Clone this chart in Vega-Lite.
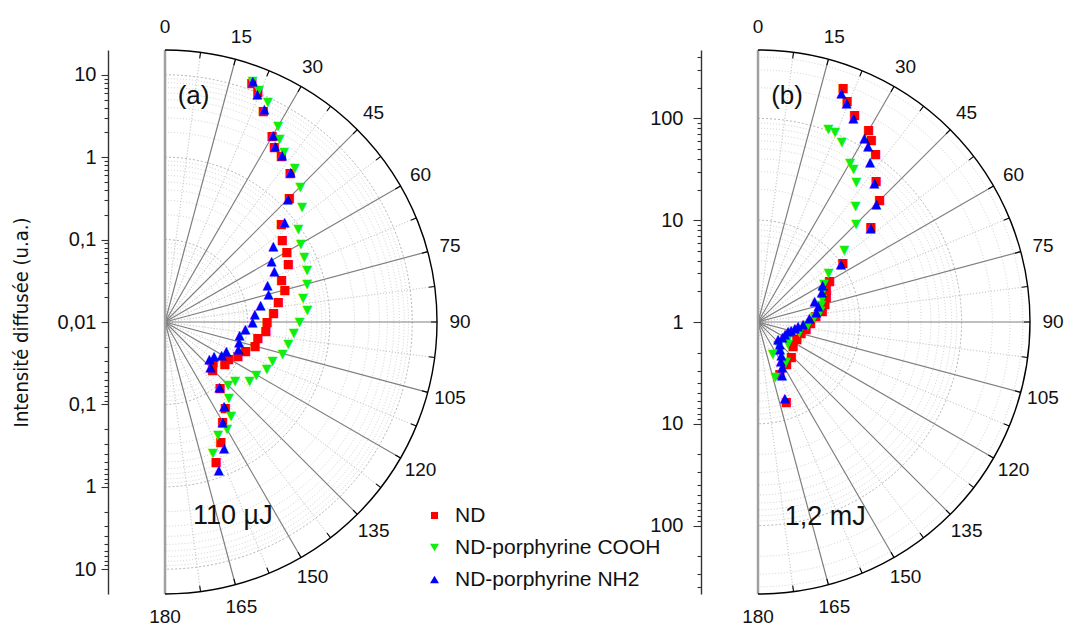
{
  "$schema": "https://vega.github.io/schema/vega-lite/v6.json",
  "padding": {"left": 11, "top": 18, "right": 0, "bottom": 0},
  "bounds": "flush",
  "spacing": 253,
  "config": {
    "view": {"stroke": null},
    "text": {"font": "Liberation Sans"},
    "axis": {"labelFont": "Liberation Sans", "titleFont": "Liberation Sans"}
  },
  "resolve": {"scale": {"color": "independent", "radius": "independent", "theta": "independent"}},
  "datasets": {
    "cAmin": [{"r":0.02},{"r":0.03},{"r":0.04},{"r":0.05},{"r":0.06},{"r":0.07},{"r":0.08},{"r":0.09},{"r":0.2},{"r":0.3},{"r":0.4},{"r":0.5},{"r":0.6},{"r":0.7},{"r":0.8},{"r":0.9},{"r":2},{"r":3},{"r":4},{"r":5},{"r":6},{"r":7},{"r":8},{"r":9}],
    "cAmaj": [{"r":0.1},{"r":1},{"r":10}],
    "cBmin": [{"r":2},{"r":3},{"r":4},{"r":5},{"r":6},{"r":7},{"r":8},{"r":9},{"r":20},{"r":30},{"r":40},{"r":50},{"r":60},{"r":70},{"r":80},{"r":90},{"r":200},{"r":300},{"r":400}],
    "cBmaj": [{"r":10},{"r":100}],
    "half": [{"a":7.5},{"a":22.5},{"a":37.5},{"a":52.5},{"a":67.5},{"a":82.5},{"a":97.5},{"a":112.5},{"a":127.5},{"a":142.5},{"a":157.5},{"a":172.5}],
    "spokes": [{"a":15},{"a":30},{"a":45},{"a":60},{"a":75},{"a":90},{"a":105},{"a":120},{"a":135},{"a":150},{"a":165}],
    "diam": [{"a":0},{"a":180}],
    "ticks": [{"a":7.5},{"a":15},{"a":22.5},{"a":30},{"a":37.5},{"a":45},{"a":52.5},{"a":60},{"a":67.5},{"a":75},{"a":82.5},{"a":90},{"a":97.5},{"a":105},{"a":112.5},{"a":120},{"a":127.5},{"a":135},{"a":142.5},{"a":150},{"a":157.5},{"a":165},{"a":172.5}],
    "labels": [{"a":0},{"a":15},{"a":30},{"a":45},{"a":60},{"a":75},{"a":90},{"a":105},{"a":120},{"a":135},{"a":150},{"a":165},{"a":180}],
    "one": [{}],
    "ptsA": [
      {"s":"ND","a":20,"i":12.2},{"s":"ND","a":22,"i":10.2},{"s":"ND","a":25,"i":6.7},{"s":"ND","a":30,"i":4.0},{"s":"ND","a":32,"i":3.2},{"s":"ND","a":35,"i":2.9},{"s":"ND","a":40,"i":2.3},{"s":"ND","a":45,"i":1.36},{"s":"ND","a":50,"i":0.70},{"s":"ND","a":55,"i":0.55},{"s":"ND","a":60,"i":0.51},{"s":"ND","a":65,"i":0.45},{"s":"ND","a":70,"i":0.32},{"s":"ND","a":75,"i":0.32},{"s":"ND","a":80,"i":0.25},{"s":"ND","a":85,"i":0.21},{"s":"ND","a":90,"i":0.174},{"s":"ND","a":95,"i":0.17},{"s":"ND","a":100,"i":0.14},{"s":"ND","a":105,"i":0.136},{"s":"ND","a":110,"i":0.110},{"s":"ND","a":115,"i":0.095},{"s":"ND","a":120,"i":0.078},{"s":"ND","a":125,"i":0.077},{"s":"ND","a":130,"i":0.058},{"s":"ND","a":135,"i":0.066},{"s":"ND","a":140,"i":0.11},{"s":"ND","a":145,"i":0.19},{"s":"ND","a":150,"i":0.25},{"s":"ND","a":155,"i":0.40},{"s":"ND","a":160,"i":0.65},
      {"s":"ND-porphyrine COOH","a":20,"i":12.8},{"s":"ND-porphyrine COOH","a":22,"i":11.0},{"s":"ND-porphyrine COOH","a":25,"i":8.9},{"s":"ND-porphyrine COOH","a":30,"i":5.5},{"s":"ND-porphyrine COOH","a":32,"i":4.2},{"s":"ND-porphyrine COOH","a":35,"i":3.3},{"s":"ND-porphyrine COOH","a":40,"i":2.8},{"s":"ND-porphyrine COOH","a":45,"i":2.1},{"s":"ND-porphyrine COOH","a":50,"i":1.48},{"s":"ND-porphyrine COOH","a":55,"i":0.94},{"s":"ND-porphyrine COOH","a":60,"i":0.80},{"s":"ND-porphyrine COOH","a":65,"i":0.73},{"s":"ND-porphyrine COOH","a":70,"i":0.68},{"s":"ND-porphyrine COOH","a":75,"i":0.61},{"s":"ND-porphyrine COOH","a":80,"i":0.50},{"s":"ND-porphyrine COOH","a":85,"i":0.54},{"s":"ND-porphyrine COOH","a":90,"i":0.43},{"s":"ND-porphyrine COOH","a":95,"i":0.37},{"s":"ND-porphyrine COOH","a":100,"i":0.33},{"s":"ND-porphyrine COOH","a":105,"i":0.30},{"s":"ND-porphyrine COOH","a":110,"i":0.245},{"s":"ND-porphyrine COOH","a":115,"i":0.23},{"s":"ND-porphyrine COOH","a":120,"i":0.19},{"s":"ND-porphyrine COOH","a":125,"i":0.178},{"s":"ND-porphyrine COOH","a":130,"i":0.128},{"s":"ND-porphyrine COOH","a":135,"i":0.12},{"s":"ND-porphyrine COOH","a":140,"i":0.16},{"s":"ND-porphyrine COOH","a":145,"i":0.25},{"s":"ND-porphyrine COOH","a":150,"i":0.32},{"s":"ND-porphyrine COOH","a":155,"i":0.33},{"s":"ND-porphyrine COOH","a":160,"i":0.49},
      {"s":"ND-porphyrine NH2","a":20,"i":12.9},{"s":"ND-porphyrine NH2","a":22,"i":9.7},{"s":"ND-porphyrine NH2","a":25,"i":7.1},{"s":"ND-porphyrine NH2","a":30,"i":4.2},{"s":"ND-porphyrine NH2","a":32,"i":3.3},{"s":"ND-porphyrine NH2","a":35,"i":3.0},{"s":"ND-porphyrine NH2","a":40,"i":2.35},{"s":"ND-porphyrine NH2","a":45,"i":1.28},{"s":"ND-porphyrine NH2","a":50,"i":0.78},{"s":"ND-porphyrine NH2","a":55,"i":0.40},{"s":"ND-porphyrine NH2","a":60,"i":0.31},{"s":"ND-porphyrine NH2","a":65,"i":0.29},{"s":"ND-porphyrine NH2","a":70,"i":0.21},{"s":"ND-porphyrine NH2","a":75,"i":0.20},{"s":"ND-porphyrine NH2","a":80,"i":0.15},{"s":"ND-porphyrine NH2","a":85,"i":0.124},{"s":"ND-porphyrine NH2","a":90,"i":0.115},{"s":"ND-porphyrine NH2","a":95,"i":0.095},{"s":"ND-porphyrine NH2","a":100,"i":0.083},{"s":"ND-porphyrine NH2","a":105,"i":0.085},{"s":"ND-porphyrine NH2","a":110,"i":0.088},{"s":"ND-porphyrine NH2","a":115,"i":0.066},{"s":"ND-porphyrine NH2","a":120,"i":0.062},{"s":"ND-porphyrine NH2","a":125,"i":0.053},{"s":"ND-porphyrine NH2","a":130,"i":0.050},{"s":"ND-porphyrine NH2","a":135,"i":0.060},{"s":"ND-porphyrine NH2","a":140,"i":0.106},{"s":"ND-porphyrine NH2","a":145,"i":0.177},{"s":"ND-porphyrine NH2","a":150,"i":0.25},{"s":"ND-porphyrine NH2","a":155,"i":0.49},{"s":"ND-porphyrine NH2","a":160,"i":0.81}
    ],
    "ptsB": [
      {"s":"ND","a":20,"i":281},{"s":"ND","a":22,"i":217},{"s":"ND","a":25,"i":177},{"s":"ND","a":30,"i":150},{"s":"ND","a":32,"i":127},{"s":"ND","a":35,"i":104},{"s":"ND","a":40,"i":64},{"s":"ND","a":45,"i":49},{"s":"ND","a":50,"i":28},{"s":"ND","a":55,"i":10.4},{"s":"ND","a":60,"i":6.5},{"s":"ND","a":65,"i":5.5},{"s":"ND","a":70,"i":5.2},{"s":"ND","a":75,"i":4.8},{"s":"ND","a":80,"i":4.4},{"s":"ND","a":84,"i":3.74},{"s":"ND","a":91,"i":3.3},{"s":"ND","a":98,"i":3.0},{"s":"ND","a":104,"i":2.73},{"s":"ND","a":114,"i":2.62},{"s":"ND","a":124,"i":2.61},{"s":"ND","a":136,"i":2.98},{"s":"ND","a":146,"i":3.18},{"s":"ND","a":157,"i":3.55},{"s":"ND","a":160.5,"i":6.82},
      {"s":"ND-porphyrine COOH","a":20,"i":105},{"s":"ND-porphyrine COOH","a":22,"i":104},{"s":"ND-porphyrine COOH","a":25,"i":89},{"s":"ND-porphyrine COOH","a":30,"i":64},{"s":"ND-porphyrine COOH","a":32,"i":59},{"s":"ND-porphyrine COOH","a":35,"i":48},{"s":"ND-porphyrine COOH","a":40,"i":30.8},{"s":"ND-porphyrine COOH","a":45,"i":23},{"s":"ND-porphyrine COOH","a":50,"i":12.8},{"s":"ND-porphyrine COOH","a":55,"i":7.0},{"s":"ND-porphyrine COOH","a":60,"i":5.6},{"s":"ND-porphyrine COOH","a":65,"i":5.0},{"s":"ND-porphyrine COOH","a":70,"i":4.7},{"s":"ND-porphyrine COOH","a":75,"i":4.4},{"s":"ND-porphyrine COOH","a":80,"i":4.2},{"s":"ND-porphyrine COOH","a":85,"i":3.6},{"s":"ND-porphyrine COOH","a":93,"i":3.1},{"s":"ND-porphyrine COOH","a":104,"i":2.65},{"s":"ND-porphyrine COOH","a":113,"i":2.18},{"s":"ND-porphyrine COOH","a":120.5,"i":2.10},{"s":"ND-porphyrine COOH","a":126,"i":2.31},{"s":"ND-porphyrine COOH","a":139,"i":2.0},{"s":"ND-porphyrine COOH","a":145,"i":3.03},{"s":"ND-porphyrine COOH","a":155,"i":2.21},{"s":"ND-porphyrine COOH","a":162.5,"i":3.69},
      {"s":"ND-porphyrine NH2","a":20,"i":248},{"s":"ND-porphyrine NH2","a":22,"i":210},{"s":"ND-porphyrine NH2","a":25,"i":163},{"s":"ND-porphyrine NH2","a":30,"i":123},{"s":"ND-porphyrine NH2","a":32,"i":109},{"s":"ND-porphyrine NH2","a":35,"i":83},{"s":"ND-porphyrine NH2","a":40,"i":60},{"s":"ND-porphyrine NH2","a":45,"i":44},{"s":"ND-porphyrine NH2","a":50,"i":27.7},{"s":"ND-porphyrine NH2","a":55,"i":9.8},{"s":"ND-porphyrine NH2","a":60,"i":5.4},{"s":"ND-porphyrine NH2","a":65,"i":4.9},{"s":"ND-porphyrine NH2","a":70,"i":3.9},{"s":"ND-porphyrine NH2","a":75,"i":4.1},{"s":"ND-porphyrine NH2","a":80,"i":3.8},{"s":"ND-porphyrine NH2","a":85,"i":3.2},{"s":"ND-porphyrine NH2","a":92,"i":2.77},{"s":"ND-porphyrine NH2","a":96,"i":2.48},{"s":"ND-porphyrine NH2","a":99,"i":2.32},{"s":"ND-porphyrine NH2","a":104,"i":2.16},{"s":"ND-porphyrine NH2","a":107,"i":2.03},{"s":"ND-porphyrine NH2","a":114,"i":1.95},{"s":"ND-porphyrine NH2","a":122,"i":1.91},{"s":"ND-porphyrine NH2","a":130,"i":1.80},{"s":"ND-porphyrine NH2","a":135,"i":2.0},{"s":"ND-porphyrine NH2","a":141,"i":2.2},{"s":"ND-porphyrine NH2","a":145,"i":2.5},{"s":"ND-porphyrine NH2","a":150,"i":2.79},{"s":"ND-porphyrine NH2","a":152,"i":3.17},{"s":"ND-porphyrine NH2","a":155.5,"i":3.71},{"s":"ND-porphyrine NH2","a":160.6,"i":6.19}
    ]
  },
  "hconcat": [
    {
      "width": 340,
      "height": 544,
      "encoding": {
        "x": {"datum": 0, "type": "quantitative", "scale": {"domain": [-0.692, 3.434], "nice": false, "zero": false}, "axis": null},
        "y": {"datum": 0, "type": "quantitative", "scale": {"domain": [-3.301, 3.301], "nice": false, "zero": false},
          "axis": {
            "title": "Intensité diffusée (u.a.)",
            "titleFont": "'Liberation Sans Narrow', 'DejaVu Sans Condensed', 'Liberation Sans', sans-serif",
            "titleFontSize": 20, "titleFontWeight": "normal", "titleColor": "#111111", "titlePadding": 26,
            "values": [-3,-2.954,-2.903,-2.845,-2.778,-2.699,-2.602,-2.477,-2.301,-2,-1.954,-1.903,-1.845,-1.778,-1.699,-1.602,-1.477,-1.301,-1,-0.954,-0.903,-0.845,-0.778,-0.699,-0.602,-0.477,-0.301,0,0.301,0.477,0.602,0.699,0.778,0.845,0.903,0.954,1,1.301,1.477,1.602,1.699,1.778,1.845,1.903,1.954,2,2.301,2.477,2.602,2.699,2.778,2.845,2.903,2.954,3],
            "labelExpr": "abs(datum.value - round(datum.value)) < 0.001 ? ['0,01','0,1','1','10'][abs(round(datum.value))] : ''",
            "labelFontSize": 20, "labelColor": "#111111", "labelPadding": 5, "labelOverlap": false, "labelFlush": false,
            "tickSize": {"condition": {"test": "abs(datum.value - round(datum.value)) < 0.001", "value": 7}, "value": 4},
            "tickColor": "#333333", "tickWidth": 1.1, "domainColor": "#333333", "domainWidth": 1.4, "grid": false
          }
        }
      },
      "layer": [
        {"data": {"name": "cAmin"}, "mark": {"type": "arc", "filled": false, "stroke": "#c4c4c4", "strokeWidth": 0.8, "strokeDash": [1, 2]},
         "encoding": {"theta": {"datum": 0, "type": "quantitative", "stack": null, "scale": {"domain": [0, 360], "range": [0, 6.283185307179586]}}, "theta2": {"datum": 180},
                      "radius": {"field": "r", "type": "quantitative", "scale": {"type": "log", "domain": [0.01, 20], "range": [0, 272]}}, "radius2": {"datum": 0.01}}},
        {"data": {"name": "cAmaj"}, "mark": {"type": "arc", "filled": false, "stroke": "#aaaaaa", "strokeWidth": 0.9, "strokeDash": [2, 2]},
         "encoding": {"theta": {"datum": 0, "type": "quantitative", "stack": null, "scale": {"domain": [0, 360], "range": [0, 6.283185307179586]}}, "theta2": {"datum": 180},
                      "radius": {"field": "r", "type": "quantitative", "scale": {"type": "log", "domain": [0.01, 20], "range": [0, 272]}}, "radius2": {"datum": 0.01}}},
        {"data": {"name": "half"}, "mark": {"type": "arc", "filled": false, "stroke": "#c8c8c8", "strokeWidth": 0.8, "strokeDash": [1, 2]},
         "encoding": {"theta": {"field": "a", "type": "quantitative", "stack": null, "scale": {"domain": [0, 360], "range": [0, 6.283185307179586]}}, "theta2": {"field": "a"},
                      "radius": {"datum": 20, "type": "quantitative", "scale": {"type": "log", "domain": [0.01, 20], "range": [0, 272]}}, "radius2": {"datum": 0.01}}},
        {"data": {"name": "spokes"}, "mark": {"type": "arc", "filled": false, "stroke": "#808080", "strokeWidth": 1.2},
         "encoding": {"theta": {"field": "a", "type": "quantitative", "stack": null, "scale": {"domain": [0, 360], "range": [0, 6.283185307179586]}}, "theta2": {"field": "a"},
                      "radius": {"datum": 20, "type": "quantitative", "scale": {"type": "log", "domain": [0.01, 20], "range": [0, 272]}}, "radius2": {"datum": 0.01}}},
        {"data": {"name": "diam"}, "mark": {"type": "arc", "filled": false, "stroke": "#a0a0a0", "strokeWidth": 2.5},
         "encoding": {"theta": {"field": "a", "type": "quantitative", "stack": null, "scale": {"domain": [0, 360], "range": [0, 6.283185307179586]}}, "theta2": {"field": "a"},
                      "radius": {"datum": 20, "type": "quantitative", "scale": {"type": "log", "domain": [0.01, 20], "range": [0, 272]}}, "radius2": {"datum": 0.01}}},
        {"data": {"name": "ticks"}, "mark": {"type": "arc", "filled": false, "stroke": "#000000", "strokeWidth": 1.1},
         "encoding": {"theta": {"field": "a", "type": "quantitative", "stack": null, "scale": {"domain": [0, 360], "range": [0, 6.283185307179586]}}, "theta2": {"field": "a"},
                      "radius": {"datum": 20, "type": "quantitative", "scale": {"type": "log", "domain": [0.01, 20], "range": [0, 272]}}, "radius2": {"datum": 16.9}}},
        {"data": {"name": "one"}, "mark": {"type": "arc", "filled": false, "stroke": "#000000", "strokeWidth": 1.4},
         "encoding": {"theta": {"datum": 0, "type": "quantitative", "stack": null, "scale": {"domain": [0, 360], "range": [0, 6.283185307179586]}}, "theta2": {"datum": 180},
                      "radius": {"datum": 20, "type": "quantitative", "scale": {"type": "log", "domain": [0.01, 20], "range": [0, 272]}}, "radius2": {"datum": 20}}},
        {"data": {"name": "labels"}, "mark": {"type": "text", "radiusOffset": 23, "fontSize": 19, "align": "center", "baseline": "middle", "color": "#111111"},
         "encoding": {"theta": {"field": "a", "type": "quantitative", "scale": {"domain": [0, 360], "range": [0, 6.283185307179586]}},
                      "radius": {"datum": 20, "type": "quantitative", "scale": {"type": "log", "domain": [0.01, 20], "range": [0, 272]}},
                      "text": {"field": "a", "type": "quantitative", "format": "d"}}},
        {"data": {"name": "ptsA"}, "mark": {"type": "text", "font": "DejaVu Sans", "align": "center", "baseline": "middle"},
         "encoding": {"theta": {"field": "a", "type": "quantitative", "scale": {"domain": [0, 360], "range": [0, 6.283185307179586]}},
                      "radius": {"field": "i", "type": "quantitative", "scale": {"type": "log", "domain": [0.01, 20], "range": [0, 272]}},
                      "text": {"condition": [{"test": "datum.s === 'ND'", "value": "■"}, {"test": "datum.s === 'ND-porphyrine NH2'", "value": "▲"}], "value": "▼"},
                      "size": {"condition": {"test": "datum.s === 'ND'", "value": 12}, "value": 13},
                      "color": {"field": "s", "type": "nominal",
                        "scale": {"domain": ["ND", "ND-porphyrine COOH", "ND-porphyrine NH2"], "range": ["#ff0000", "#10ee10", "#0000ff"]},
                        "legend": {"orient": "none", "legendX": 316, "legendY": 455, "title": null, "padding": 0,
                          "labelFontSize": 21, "labelFont": "Liberation Sans", "labelColor": "#111111", "labelOffset": 10, "rowPadding": 10, "labelLimit": 0,
                          "encode": {"symbols": {"update": {
                            "shape": {"signal": "datum.value === 'ND' ? 'square' : datum.value === 'ND-porphyrine COOH' ? 'triangle-down' : 'triangle-up'"},
                            "size": {"signal": "datum.value === 'ND' ? 50 : 80"},
                            "fill": {"signal": "datum.value === 'ND' ? '#ff0000' : datum.value === 'ND-porphyrine COOH' ? '#10ee10' : '#0000ff'"},
                            "strokeWidth": {"value": 0}}}}}}}},
        {"data": {"name": "one"}, "mark": {"type": "text", "fontSize": 26, "align": "center", "baseline": "alphabetic", "color": "#111111"},
         "encoding": {"x": {"datum": 0.346, "type": "quantitative"}, "y": {"datum": 2.65, "type": "quantitative"}, "text": {"value": "(a)"}}},
        {"data": {"name": "one"}, "mark": {"type": "text", "fontSize": 27, "align": "left", "baseline": "alphabetic", "color": "#111111"},
         "encoding": {"x": {"datum": 0.34, "type": "quantitative"}, "y": {"datum": -2.447, "type": "quantitative"}, "text": {"value": "110 µJ"}}}
      ]
    },
    {
      "width": 340,
      "height": 544,
      "encoding": {
        "x": {"datum": 0, "type": "quantitative", "scale": {"domain": [-0.56, 2.78], "nice": false, "zero": false}, "axis": null},
        "y": {"datum": 0, "type": "quantitative", "scale": {"domain": [-2.672, 2.672], "nice": false, "zero": false},
          "axis": {
            "title": null,
            "values": [-2.602,-2.477,-2.301,-2,-1.954,-1.903,-1.845,-1.778,-1.699,-1.602,-1.477,-1.301,-1,-0.954,-0.903,-0.845,-0.778,-0.699,-0.602,-0.477,-0.301,0,0.301,0.477,0.602,0.699,0.778,0.845,0.903,0.954,1,1.301,1.477,1.602,1.699,1.778,1.845,1.903,1.954,2,2.301,2.477,2.602],
            "labelExpr": "abs(datum.value - round(datum.value)) < 0.001 ? ['1','10','100'][abs(round(datum.value))] : ''",
            "labelFontSize": 20, "labelColor": "#111111", "labelPadding": 10, "labelOverlap": false, "labelFlush": false,
            "tickSize": {"condition": {"test": "abs(datum.value - round(datum.value)) < 0.001", "value": 8}, "value": 4},
            "tickColor": "#333333", "tickWidth": 1.1, "domainColor": "#333333", "domainWidth": 1.4, "grid": false
          }
        }
      },
      "layer": [
        {"data": {"name": "cBmin"}, "mark": {"type": "arc", "filled": false, "stroke": "#c4c4c4", "strokeWidth": 0.8, "strokeDash": [1, 2]},
         "encoding": {"theta": {"datum": 0, "type": "quantitative", "stack": null, "scale": {"domain": [0, 360], "range": [0, 6.283185307179586]}}, "theta2": {"datum": 180},
                      "radius": {"field": "r", "type": "quantitative", "scale": {"type": "log", "domain": [1, 470], "range": [0, 272]}}, "radius2": {"datum": 1}}},
        {"data": {"name": "cBmaj"}, "mark": {"type": "arc", "filled": false, "stroke": "#aaaaaa", "strokeWidth": 0.9, "strokeDash": [2, 2]},
         "encoding": {"theta": {"datum": 0, "type": "quantitative", "stack": null, "scale": {"domain": [0, 360], "range": [0, 6.283185307179586]}}, "theta2": {"datum": 180},
                      "radius": {"field": "r", "type": "quantitative", "scale": {"type": "log", "domain": [1, 470], "range": [0, 272]}}, "radius2": {"datum": 1}}},
        {"data": {"name": "half"}, "mark": {"type": "arc", "filled": false, "stroke": "#c8c8c8", "strokeWidth": 0.8, "strokeDash": [1, 2]},
         "encoding": {"theta": {"field": "a", "type": "quantitative", "stack": null, "scale": {"domain": [0, 360], "range": [0, 6.283185307179586]}}, "theta2": {"field": "a"},
                      "radius": {"datum": 470, "type": "quantitative", "scale": {"type": "log", "domain": [1, 470], "range": [0, 272]}}, "radius2": {"datum": 1}}},
        {"data": {"name": "spokes"}, "mark": {"type": "arc", "filled": false, "stroke": "#808080", "strokeWidth": 1.2},
         "encoding": {"theta": {"field": "a", "type": "quantitative", "stack": null, "scale": {"domain": [0, 360], "range": [0, 6.283185307179586]}}, "theta2": {"field": "a"},
                      "radius": {"datum": 470, "type": "quantitative", "scale": {"type": "log", "domain": [1, 470], "range": [0, 272]}}, "radius2": {"datum": 1}}},
        {"data": {"name": "diam"}, "mark": {"type": "arc", "filled": false, "stroke": "#a0a0a0", "strokeWidth": 2.5},
         "encoding": {"theta": {"field": "a", "type": "quantitative", "stack": null, "scale": {"domain": [0, 360], "range": [0, 6.283185307179586]}}, "theta2": {"field": "a"},
                      "radius": {"datum": 470, "type": "quantitative", "scale": {"type": "log", "domain": [1, 470], "range": [0, 272]}}, "radius2": {"datum": 1}}},
        {"data": {"name": "ticks"}, "mark": {"type": "arc", "filled": false, "stroke": "#000000", "strokeWidth": 1.1},
         "encoding": {"theta": {"field": "a", "type": "quantitative", "stack": null, "scale": {"domain": [0, 360], "range": [0, 6.283185307179586]}}, "theta2": {"field": "a"},
                      "radius": {"datum": 470, "type": "quantitative", "scale": {"type": "log", "domain": [1, 470], "range": [0, 272]}}, "radius2": {"datum": 410}}},
        {"data": {"name": "one"}, "mark": {"type": "arc", "filled": false, "stroke": "#000000", "strokeWidth": 1.4},
         "encoding": {"theta": {"datum": 0, "type": "quantitative", "stack": null, "scale": {"domain": [0, 360], "range": [0, 6.283185307179586]}}, "theta2": {"datum": 180},
                      "radius": {"datum": 470, "type": "quantitative", "scale": {"type": "log", "domain": [1, 470], "range": [0, 272]}}, "radius2": {"datum": 470}}},
        {"data": {"name": "labels"}, "mark": {"type": "text", "radiusOffset": 23, "fontSize": 19, "align": "center", "baseline": "middle", "color": "#111111"},
         "encoding": {"theta": {"field": "a", "type": "quantitative", "scale": {"domain": [0, 360], "range": [0, 6.283185307179586]}},
                      "radius": {"datum": 470, "type": "quantitative", "scale": {"type": "log", "domain": [1, 470], "range": [0, 272]}},
                      "text": {"field": "a", "type": "quantitative", "format": "d"}}},
        {"data": {"name": "ptsB"}, "mark": {"type": "text", "font": "DejaVu Sans", "align": "center", "baseline": "middle"},
         "encoding": {"theta": {"field": "a", "type": "quantitative", "scale": {"domain": [0, 360], "range": [0, 6.283185307179586]}},
                      "radius": {"field": "i", "type": "quantitative", "scale": {"type": "log", "domain": [1, 470], "range": [0, 272]}},
                      "text": {"condition": [{"test": "datum.s === 'ND'", "value": "■"}, {"test": "datum.s === 'ND-porphyrine NH2'", "value": "▲"}], "value": "▼"},
                      "size": {"condition": {"test": "datum.s === 'ND'", "value": 12}, "value": 13},
                      "color": {"field": "s", "type": "nominal",
                        "scale": {"domain": ["ND", "ND-porphyrine COOH", "ND-porphyrine NH2"], "range": ["#ff0000", "#10ee10", "#0000ff"]},
                        "legend": null}}},
        {"data": {"name": "one"}, "mark": {"type": "text", "fontSize": 26, "align": "center", "baseline": "alphabetic", "color": "#111111"},
         "encoding": {"x": {"datum": 0.285, "type": "quantitative"}, "y": {"datum": 2.145, "type": "quantitative"}, "text": {"value": "(b)"}}},
        {"data": {"name": "one"}, "mark": {"type": "text", "fontSize": 27, "align": "left", "baseline": "alphabetic", "color": "#111111"},
         "encoding": {"x": {"datum": 0.262, "type": "quantitative"}, "y": {"datum": -1.99, "type": "quantitative"}, "text": {"value": "1,2 mJ"}}}
      ]
    }
  ]
}
